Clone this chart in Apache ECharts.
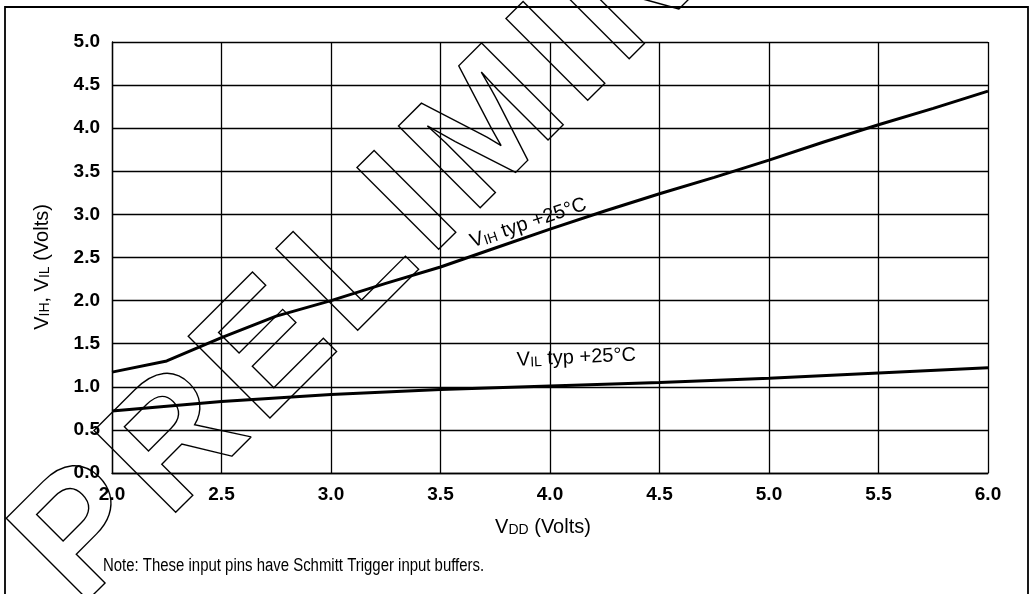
<!DOCTYPE html>
<html>
<head>
<meta charset="utf-8">
<script src="https://cdn.jsdelivr.net/npm/echarts@6/dist/echarts.min.js"></script>
<style>html,body{margin:0;padding:0;background:#fff}#c{width:1030px;height:594px}</style>
</head>
<body>
<div id="c"></div>
<script>
// ---- data ----
const vihX = [2.0, 2.25, 2.5, 2.75, 3.0, 3.25, 3.5, 3.75, 4.0, 4.25, 4.5, 4.75, 5.0, 5.25, 5.5, 5.75, 6.0];
const vihVals = [1.17, 1.30, 1.57, 1.82, 2.00, 2.20, 2.39, 2.61, 2.83, 3.04, 3.24, 3.43, 3.63, 3.84, 4.04, 4.23, 4.43];
const vilX = [2.0, 2.5, 3.0, 3.5, 4.0, 4.5, 5.0, 5.5, 6.0];
const vilVals = [0.72, 0.83, 0.91, 0.97, 1.01, 1.05, 1.10, 1.16, 1.22];
const xTicks = [2.0, 2.5, 3.0, 3.5, 4.0, 4.5, 5.0, 5.5, 6.0];
const yTicks = [0.0, 0.5, 1.0, 1.5, 2.0, 2.5, 3.0, 3.5, 4.0, 4.5, 5.0];
const vihLabelAt = [3.90, 2.91];
const vilLabelAt = [4.12, 1.35];
const noteText = 'Note: These input pins have Schmitt Trigger input buffers.';
const watermark = 'PRELIMINARY';

const FONT = '"Liberation Sans", Arial, Helvetica, sans-serif';
const chart = echarts.init(document.getElementById('c'), null, {renderer: 'canvas'});

const richMain = {
  v: {fontFamily: FONT, fontSize: 20, color: '#000', lineHeight: 22, verticalAlign: 'bottom'},
  s: {fontFamily: FONT, fontSize: 14, color: '#000', lineHeight: 19, verticalAlign: 'bottom'}
};

// watermark letters (decoration)
const emW = {P: .667, R: .722, E: .667, L: .611, I: .278, M: .833, N: .722, A: .722, Y: .667};
const wmFs = 168, wmTrack = 12;
const anchorIdx = 4, anchorPt = [414.5, 208];
const centers = [];
let cum = 0;
for (let i = 0; i < watermark.length; i++) {
  const w = emW[watermark[i]] * wmFs;
  centers.push(cum + w / 2);
  cum += w + wmTrack;
}
const u = [Math.SQRT1_2, -Math.SQRT1_2];
const wmEls = watermark.split('').map((ch, i) => {
  const d = centers[i] - centers[anchorIdx];
  return {
    type: 'text', id: 'wm' + i, z: 50,
    x: anchorPt[0] + d * u[0], y: anchorPt[1] + d * u[1],
    rotation: Math.PI / 4,
    style: {
      text: ch, font: 'bold ' + wmFs + 'px ' + FONT,
      fill: 'rgba(0,0,0,0)', stroke: '#000', lineWidth: 1.4,
      textAlign: 'center', textVerticalAlign: 'middle'
    }
  };
});

const axisLbl = {color: '#000', fontSize: 19, fontWeight: 'bold', fontFamily: FONT, formatter: v => v.toFixed(1)};

chart.setOption({
  animation: false,
  backgroundColor: '#fff',
  grid: {left: 112, right: 42, top: 42, bottom: 121},
  xAxis: {
    type: 'value', min: xTicks[0], max: xTicks[xTicks.length - 1], interval: 0.5,
    axisLine: {lineStyle: {color: '#000', width: 1.3}},
    axisTick: {show: false},
    splitLine: {show: true, lineStyle: {color: '#000', width: 1.3}},
    axisLabel: Object.assign({margin: 12}, axisLbl),
    name: '{v|V}{s|DD}{v| (Volts)}',
    nameLocation: 'middle', nameGap: 42,
    nameTextStyle: {rich: richMain, padding: [0, 14, 0, 0]}
  },
  yAxis: {
    type: 'value', min: yTicks[0], max: yTicks[yTicks.length - 1], interval: 0.5,
    axisLine: {show: true, lineStyle: {color: '#000', width: 1.3}},
    axisTick: {show: false},
    splitLine: {show: true, lineStyle: {color: '#000', width: 1.3}},
    axisLabel: Object.assign({margin: 12}, axisLbl),
    name: '{v|V}{s|IH}{v|, V}{s|IL}{v| (Volts)}',
    nameLocation: 'middle', nameGap: 60, nameRotate: 90,
    nameTextStyle: {rich: richMain, padding: [0, 19, 0, 0]}
  },
  series: [
    {type: 'line', name: 'VIH', data: vihX.map((x, i) => [x, vihVals[i]]), symbol: 'none',
     lineStyle: {color: '#000', width: 3}, z: 5},
    {type: 'line', name: 'VIL', data: vilX.map((x, i) => [x, vilVals[i]]), symbol: 'none',
     lineStyle: {color: '#000', width: 3}, z: 5}
  ],
  graphic: [
    {type: 'rect', id: 'frame', z: 40, shape: {x: 5, y: 7, width: 1023, height: 640},
     style: {fill: 'rgba(0,0,0,0)', stroke: '#000', lineWidth: 1.8}},
    {type: 'text', id: 'note', z: 40, x: 103, y: 566, scaleX: 0.83,
     style: {text: noteText, font: '18px ' + FONT, fill: '#000', textAlign: 'left', textVerticalAlign: 'middle'}}
  ].concat(wmEls)
});

const p1 = chart.convertToPixel({gridIndex: 0}, vihLabelAt);
const p2 = chart.convertToPixel({gridIndex: 0}, vilLabelAt);
chart.setOption({
  graphic: [
    {type: 'text', id: 'vihLbl', z: 45, x: p1[0], y: p1[1], rotation: 18.5 * Math.PI / 180,
     style: {text: '{v|V}{s|IH}{v| typ +25°C}', rich: richMain, fill: '#000', textAlign: 'center', textVerticalAlign: 'middle'}},
    {type: 'text', id: 'vilLbl', z: 45, x: p2[0], y: p2[1], rotation: 2.4 * Math.PI / 180,
     style: {text: '{v|V}{s|IL}{v| typ +25°C}', rich: richMain, fill: '#000', textAlign: 'center', textVerticalAlign: 'middle'}}
  ]
});
</script>
</body>
</html>
